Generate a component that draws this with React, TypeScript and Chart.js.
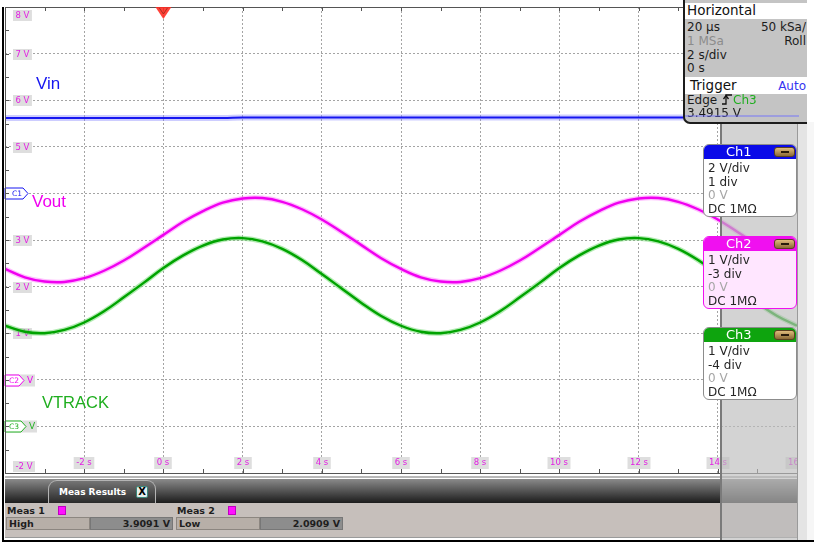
import React, { useEffect, useRef } from "react";
import { Chart, registerables } from "chart.js";

Chart.register(...registerables);

// ---- data (time in s, voltage in V) ----
const TIME = [-4, -3.5, -3, -2.5, -2, -1.5, -1, -0.5, 0, 0.5, 1, 1.5, 2, 2.5, 3, 3.5, 4, 4.5, 5, 5.5, 6, 6.5, 7, 7.5, 8, 8.5, 9, 9.5, 10, 10.5, 11, 11.5, 12, 12.5, 13, 13.5, 14, 14.5, 15, 15.5, 16];
const VIN = [5.62, 5.62, 5.62, 5.62, 5.62, 5.62, 5.62, 5.62, 5.62, 5.62, 5.62, 5.62, 5.63, 5.63, 5.63, 5.63, 5.63, 5.63, 5.63, 5.63, 5.63, 5.63, 5.63, 5.63, 5.63, 5.63, 5.63, 5.63, 5.63, 5.63, 5.63, 5.63, 5.63, 5.63, 5.63, 5.63, 5.63, 5.63, 5.63, 5.63, 5.63];
const VOUT = [2.38, 2.2, 2.11, 2.1, 2.18, 2.34, 2.56, 2.83, 3.11, 3.39, 3.62, 3.8, 3.89, 3.9, 3.82, 3.66, 3.44, 3.17, 2.89, 2.61, 2.38, 2.2, 2.11, 2.1, 2.18, 2.34, 2.56, 2.83, 3.11, 3.39, 3.62, 3.8, 3.89, 3.9, 3.82, 3.66, 3.44, 3.17, 2.89, 2.61, 2.38];
const VTRACK = [1.16, 1.03, 1.0, 1.07, 1.23, 1.47, 1.77, 2.08, 2.4, 2.67, 2.88, 3.01, 3.04, 2.97, 2.81, 2.57, 2.27, 1.96, 1.65, 1.37, 1.16, 1.03, 1.0, 1.07, 1.23, 1.47, 1.77, 2.08, 2.4, 2.67, 2.88, 3.01, 3.04, 2.97, 2.81, 2.57, 2.27, 1.96, 1.65, 1.37, 1.16];

const X_MIN = -4;
const X_MAX = 16;
const Y_MIN = -2;
const Y_MAX = 8;

const Y_TICK_VALUES = [8, 7, 6, 5, 3, 2, 1, -2];
const Y_TICK_LABELS = ["8 V", "7 V", "6 V", "5 V", "3 V", "2 V", "1 V", "-2 V"];
const X_TICK_VALUES = [-2, 0, 2, 4, 6, 8, 10, 12, 14, 16];
const X_TICK_LABELS = ["-2 s", "0 s", "2 s", "4 s", "6 s", "8 s", "10 s", "12 s", "14 s", "16 s"];

const MARKER_NAMES = ["C1", "C2", "C3"];
const MARKER_VALUES = [4, 0, -1];
const MARKER_SUFFIX = ["", "V", "V"];
const TRIGGER_TIME = 0;

const MEAS_NAMES = ["Meas 1", "Meas 2"];
const MEAS_TYPES = ["High", "Low"];
const MEAS_VALUES = ["3.9091 V", "2.0909 V"];

const COLORS = {
  vin: "#1616f0",
  vout: "#f000f0",
  vtrack: "#00a300",
  tick: "#e31ee3",
};

const scopePlugin = {
  id: "scopeDecor",
  beforeDatasetsDraw(chart: any) {
    const { ctx, chartArea: a, scales } = chart;
    const xs = scales.x;
    const ys = scales.y;
    ctx.save();
    ctx.font = "8.5px 'DejaVu Sans', sans-serif";
    ctx.textBaseline = "middle";
    // y tick labels
    ctx.textAlign = "left";
    Y_TICK_VALUES.forEach((v, i) => {
      let py = Math.round(ys.getPixelForValue(v));
      if (py < a.top + 8) py = a.top + 8;
      if (py > a.bottom - 7) py = a.bottom - 7;
      const label = Y_TICK_LABELS[i];
      const w = ctx.measureText(label).width;
      ctx.fillStyle = "#dedede";
      ctx.fillRect(a.left + 8, py - 5, w + 5, 11);
      ctx.fillStyle = COLORS.tick;
      ctx.fillText(label, a.left + 10.5, py + 0.5);
    });
    // x tick labels
    ctx.textAlign = "center";
    X_TICK_VALUES.forEach((v, i) => {
      const px = Math.round(xs.getPixelForValue(v));
      const label = X_TICK_LABELS[i];
      const w = ctx.measureText(label).width;
      ctx.fillStyle = "#dedede";
      ctx.fillRect(px - w / 2 - 2.5, a.bottom - 16, w + 5, 12);
      ctx.fillStyle = COLORS.tick;
      ctx.fillText(label, px, a.bottom - 10);
    });
    // channel offset markers
    const mColors = [COLORS.vin, COLORS.vout, "#22b022"];
    const mWidths = [23, 19, 21];
    MARKER_NAMES.forEach((name, i) => {
      const py = Math.round(ys.getPixelForValue(MARKER_VALUES[i])) + 0.5;
      const x0 = a.left;
      const x1 = x0 + mWidths[i];
      if (MARKER_SUFFIX[i]) {
        ctx.fillStyle = "#dedede";
        ctx.fillRect(x0, py - 6, mWidths[i] + 11, 12);
      }
      ctx.beginPath();
      ctx.moveTo(x0, py - 5.5);
      ctx.lineTo(x1 - 5, py - 5.5);
      ctx.lineTo(x1, py);
      ctx.lineTo(x1 - 5, py + 5.5);
      ctx.lineTo(x0, py + 5.5);
      ctx.closePath();
      ctx.fillStyle = "#ffffff";
      ctx.fill();
      ctx.strokeStyle = mColors[i];
      ctx.lineWidth = 1;
      ctx.stroke();
      ctx.fillStyle = mColors[i];
      ctx.textAlign = "left";
      ctx.font = "7.5px 'DejaVu Sans', sans-serif";
      ctx.fillText(name, x0 + (i === 0 ? 7 : 4), py + 0.5);
      if (MARKER_SUFFIX[i]) {
        ctx.font = "9px 'DejaVu Sans', sans-serif";
        ctx.fillText(MARKER_SUFFIX[i], x1 + 3, py + 0.5);
      }
    });
    ctx.restore();
  },
  afterDraw(chart: any) {
    const { ctx, chartArea: a, scales } = chart;
    const xs = scales.x;
    const ys = scales.y;
    ctx.save();
    ctx.strokeStyle = "#555555";
    ctx.lineWidth = 1;
    ctx.beginPath();
    ctx.moveTo(a.left, a.top + 0.5);
    ctx.lineTo(a.right, a.top + 0.5);
    ctx.moveTo(a.left + 0.5, a.top);
    ctx.lineTo(a.left + 0.5, a.bottom);
    ctx.moveTo(a.left, a.bottom + 0.5);
    ctx.lineTo(a.right, a.bottom + 0.5);
    ctx.moveTo(a.right + 0.5, a.top);
    ctx.lineTo(a.right + 0.5, a.bottom);
    // minor ticks
    for (let v = Y_MIN; v <= Y_MAX; v += 0.5) {
      const py = Math.round(ys.getPixelForValue(v)) + 0.5;
      ctx.moveTo(a.left, py);
      ctx.lineTo(a.left + 4, py);
    }
    for (let t = X_MIN; t <= X_MAX; t += 1) {
      const px = Math.round(xs.getPixelForValue(t)) + 0.5;
      ctx.moveTo(px, a.bottom);
      ctx.lineTo(px, a.bottom - 4);
      ctx.moveTo(px, a.top);
      ctx.lineTo(px, a.top + 4);
    }
    ctx.stroke();
    // trigger marker
    const tx = xs.getPixelForValue(TRIGGER_TIME);
    ctx.beginPath();
    ctx.moveTo(tx - 8, a.top);
    ctx.lineTo(tx + 8, a.top);
    ctx.lineTo(tx, a.top + 12);
    ctx.closePath();
    ctx.fillStyle = "rgba(255,45,35,0.9)";
    ctx.fill();
    ctx.strokeStyle = "rgba(140,40,20,0.7)";
    ctx.beginPath();
    ctx.moveTo(tx - 4, a.top + 1);
    ctx.lineTo(tx, a.top + 7);
    ctx.lineTo(tx + 4, a.top + 1);
    ctx.stroke();
    ctx.restore();
  },
};

function pts(ys: number[]) {
  return TIME.map((t, i) => ({ x: t, y: ys[i] }));
}

const abs = (l: number, t: number, w: number, h: number, extra: any = {}) => ({
  position: "absolute" as const,
  left: l,
  top: t,
  width: w,
  height: h,
  boxSizing: "border-box" as const,
  ...extra,
});

function ChBox(props: { top: number; name: string; head: string; body: string; border: string; l1: string; l2: string }) {
  const line = (t: number, text: string, gray = false) => (
    <div style={{ position: "absolute", left: 4, top: t, lineHeight: "14px", fontSize: 12, color: gray ? "#a6a6a6" : "#262626", whiteSpace: "nowrap" }}>{text}</div>
  );
  return (
    <div style={abs(703, props.top, 94, 73, { border: `1px solid ${props.border}`, borderRadius: 6, background: props.body, overflow: "hidden" })}>
      <div style={abs(0, 0, 94, 14, { background: props.head })}>
        <div style={{ position: "absolute", left: 22, top: 0, lineHeight: "14px", fontSize: 13, color: "#ffffff" }}>{props.name}</div>
        <div style={abs(70, 2, 21, 10, { borderRadius: 3, background: "linear-gradient(#e0bc7c,#8c6a36)", border: "1px solid #5a4020" })}>
          <div style={abs(6, 3, 8, 2, { background: "#2a1c0c" })} />
        </div>
      </div>
      {line(16, props.l1)}
      {line(30, props.l2)}
      {line(43, "0 V", true)}
      {line(57, "DC 1MΩ")}
    </div>
  );
}

export default function App() {
  const canvasRef = useRef<HTMLCanvasElement | null>(null);

  useEffect(() => {
    const canvas = canvasRef.current;
    if (!canvas) return;
    const chart = new Chart(canvas, {
      type: "line",
      data: {
        datasets: [
          { label: "Vin", data: pts(VIN), borderColor: COLORS.vin, borderWidth: 2, order: 1 },
          { label: "Vout", data: pts(VOUT), borderColor: COLORS.vout, borderWidth: 2.4, order: 1 },
          { label: "VTRACK", data: pts(VTRACK), borderColor: COLORS.vtrack, borderWidth: 2.4, order: 1 },
          { label: "Vin band", data: pts(VIN), borderColor: "rgba(130,130,255,0.4)", borderWidth: 6, order: 3 },
          { label: "Vout band", data: pts(VOUT), borderColor: "rgba(255,110,255,0.45)", borderWidth: 5, order: 3 },
          { label: "VTRACK band", data: pts(VTRACK), borderColor: "rgba(100,215,100,0.5)", borderWidth: 5, order: 3 },
        ],
      },
      options: {
        animation: false,
        responsive: false,
        maintainAspectRatio: false,
        devicePixelRatio: 1,
        layout: { padding: { left: 5, top: 7, right: 17, bottom: 70 } },
        elements: { point: { radius: 0 }, line: { tension: 0.4 } },
        plugins: { legend: { display: false }, tooltip: { enabled: false } },
        scales: {
          x: {
            type: "linear",
            min: X_MIN,
            max: X_MAX,
            ticks: { display: false, stepSize: 2 },
            grid: { color: "#a4a4a4", drawTicks: false, lineWidth: 1 },
            border: { display: false, dash: [2, 2] },
          },
          y: {
            type: "linear",
            min: Y_MIN,
            max: Y_MAX,
            ticks: { display: false, stepSize: 1 },
            grid: { color: "#a4a4a4", drawTicks: false, lineWidth: 1 },
            border: { display: false, dash: [2, 2] },
          },
        },
      },
      plugins: [scopePlugin],
    } as any);
    return () => chart.destroy();
  }, []);

  const hRow = (top: number, left: string, right: string, leftGray = false) => (
    <>
      <div style={{ position: "absolute", left: 2, top, lineHeight: "14px", color: leftGray ? "#8c8c8c" : "#1c1c1c" }}>{left}</div>
      {right ? <div style={{ position: "absolute", right: 1, top, lineHeight: "14px", color: "#1c1c1c" }}>{right}</div> : null}
    </>
  );

  const nameFont = "'Liberation Sans', Arial, sans-serif";

  return (
    <div style={{ position: "fixed", left: 0, top: 0, width: 814, height: 543, background: "#ffffff", overflow: "hidden", fontFamily: "'DejaVu Sans', sans-serif" }}>
      <canvas ref={canvasRef} width={814} height={543} style={{ position: "absolute", left: 0, top: 0, width: 814, height: 543 }} />

      {/* trace names */}
      <div style={{ position: "absolute", left: 36, top: 75, fontFamily: nameFont, fontSize: 17, lineHeight: "17px", color: COLORS.vin }}>Vin</div>
      <div style={{ position: "absolute", left: 32, top: 193, fontFamily: nameFont, fontSize: 17, lineHeight: "17px", color: COLORS.vout }}>Vout</div>
      <div style={{ position: "absolute", left: 42, top: 394, fontFamily: nameFont, fontSize: 16.5, lineHeight: "17px", color: "#1fae1f" }}>VTRACK</div>

      {/* measurement panel */}
      <div style={abs(5, 476, 792, 2, { background: "#b8b8b8" })} />
      <div style={abs(5, 479, 792, 24, { background: "linear-gradient(#8a8a8a, #1c1c1c)" })} />
      <div style={abs(48, 480, 108, 23, { background: "linear-gradient(#747474, #2a2a2a)", border: "1px solid #b4b4b4", borderBottom: "none", borderTopLeftRadius: 9, borderTopRightRadius: 9 })}>
        <div style={{ position: "absolute", left: 10, top: 5, fontSize: 9, fontWeight: "bold", color: "#ffffff", lineHeight: "12px", whiteSpace: "nowrap" }}>Meas Results</div>
        <div style={abs(87, 5, 12, 12, { background: "#e4eeee", border: "1px solid #3c8a7c", borderRadius: 2, fontSize: 10, fontWeight: "bold", lineHeight: "10px", textAlign: "center", color: "#000" })}>X</div>
      </div>
      <div style={abs(5, 503, 792, 35, { background: "#c6bfbb" })} />
      {MEAS_NAMES.map((n, i) => {
        const x0 = 6 + i * 170;
        return (
          <React.Fragment key={n}>
            <div style={{ position: "absolute", left: x0 + 1, top: 505, fontSize: 9.5, fontWeight: "bold", color: "#1e1e1e", lineHeight: "12px" }}>{n}</div>
            <div style={abs(x0 + 52, 506, 8, 9, { background: "#ff10ff", border: "1px solid #c000c0" })} />
            <div style={abs(x0, 517, 84, 13, { background: "#b7afa8", border: "1px solid #8c8680" })}>
              <div style={{ position: "absolute", left: 2, top: 0, fontSize: 9.5, fontWeight: "bold", color: "#1e1e1e", lineHeight: "11px" }}>{MEAS_TYPES[i]}</div>
            </div>
            <div style={abs(x0 + 84, 517, 83, 13, { background: "#8d8d8d", border: "1px solid #777" })}>
              <div style={{ position: "absolute", right: 2, top: 0, fontSize: 9.5, fontWeight: "bold", color: "#1e1e1e", lineHeight: "11px" }}>{MEAS_VALUES[i]}</div>
            </div>
          </React.Fragment>
        );
      })}
      <div style={abs(5, 537, 792, 1, { background: "#9a9a9a" })} />

      {/* greyed out region */}
      <div style={abs(721, 122, 76, 418, { background: "rgba(188,188,188,0.66)" })} />
      <div style={abs(720, 122, 2, 418, { background: "#7a7a7a" })} />
      <div style={abs(797, 122, 10, 418, { background: "#e4e4e4", borderLeft: "1px solid #9a9a9a" })} />
      <div style={abs(807, 122, 7, 418, { background: "#f6f6f6" })} />

      {/* frame */}
      <div style={abs(2, 7, 2, 534, { background: "#000" })} />
      <div style={abs(2, 540, 812, 2, { background: "#000" })} />

      {/* horizontal / trigger panel */}
      <div style={abs(683, 0, 124, 124, { background: "#c4c4c4", borderLeft: "2px solid #1c1c1c", borderBottom: "2px solid #1c1c1c", borderBottomLeftRadius: 7, fontSize: 12, overflow: "hidden" })}>
        <div style={abs(0, 3, 122, 16, { background: "#ffffff" })}>
          <div style={{ position: "absolute", left: 2, top: -1, fontSize: 13.5, lineHeight: "17px", color: "#111" }}>Horizontal</div>
        </div>
        {hRow(20, "20 µs", "50 kSa/")}
        {hRow(34, "1 MSa", "Roll", true)}
        {hRow(48, "2 s/div", "")}
        {hRow(61, "0 s", "")}
        <div style={abs(0, 77, 122, 17, { background: "#ffffff" })}>
          <div style={{ position: "absolute", left: 5, top: 0, fontSize: 13.5, lineHeight: "17px", color: "#111" }}>Trigger</div>
          <div style={{ position: "absolute", right: 1, top: 1, fontSize: 12, lineHeight: "16px", color: "#3434f0" }}>Auto</div>
        </div>
        <div style={{ position: "absolute", left: 2, top: 93, lineHeight: "14px", color: "#1c1c1c", whiteSpace: "nowrap" }}>
          Edge{" "}
          <svg width="12" height="12" viewBox="0 0 12 12" style={{ verticalAlign: "-1px" }}>
            <path d="M1 11 H5 V2 H11" stroke="#111" strokeWidth="1.3" fill="none" />
            <path d="M2.5 6 L5 2.5 L7.5 6" stroke="#111" strokeWidth="1.3" fill="none" />
          </svg>
          <span style={{ color: "#1fae1f" }}>Ch3</span>
        </div>
        <div style={{ position: "absolute", left: 2, top: 106, lineHeight: "14px", color: "#1c1c1c" }}>3.4915 V</div>
        <div style={abs(0, 115, 114, 2, { background: "rgba(110,110,255,0.45)" })} />
      </div>

      {/* channel boxes */}
      <ChBox top={144} name="Ch1" head="#0a0ae8" body="#ffffff" border="#8c8c8c" l1="2 V/div" l2="1 div" />
      <ChBox top={236} name="Ch2" head="#f010f0" body="#ffe6ff" border="#f010f0" l1="1 V/div" l2="-3 div" />
      <ChBox top={327} name="Ch3" head="#0ea40e" body="#ffffff" border="#8c8c8c" l1="1 V/div" l2="-4 div" />
    </div>
  );
}
